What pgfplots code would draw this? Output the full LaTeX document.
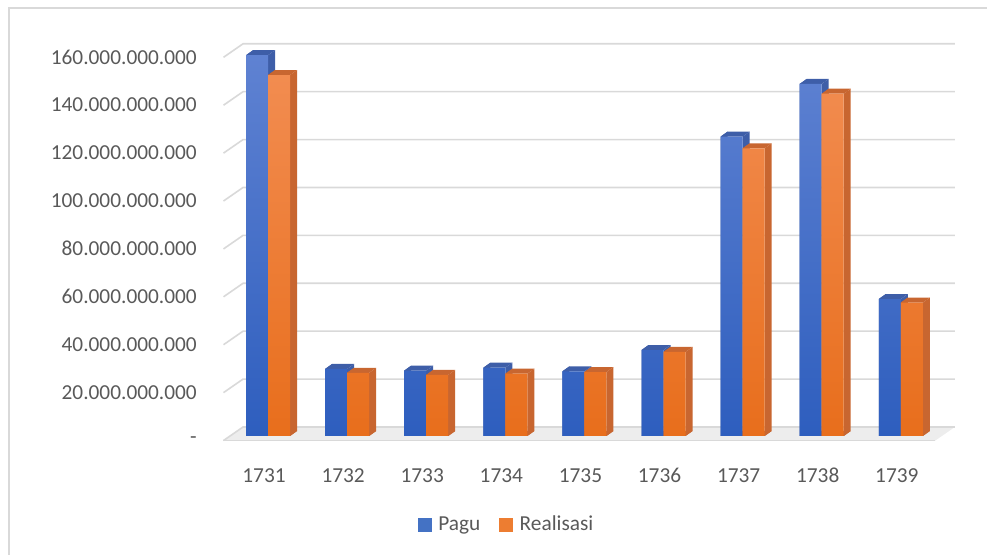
\documentclass[border=0pt]{standalone}
\usepackage{pgfplots}
\pgfplotsset{compat=1.18}
\usetikzlibrary{decorations.pathreplacing}
\usepackage{fontspec}
\setmainfont{Carlito}

\definecolor{txt}{RGB}{89,89,89}
\definecolor{gridc}{RGB}{217,217,217}
\definecolor{bluetop}{RGB}{95,130,210}
\definecolor{bluebot}{RGB}{46,94,190}
\definecolor{bluecap}{RGB}{62,94,168}
\definecolor{blueside}{RGB}{50,78,145}
\definecolor{bluekey}{RGB}{68,114,196}
\definecolor{orgtop}{RGB}{242,140,80}
\definecolor{orgbot}{RGB}{232,110,28}
\definecolor{orgcap}{RGB}{200,102,48}
\definecolor{orgside}{RGB}{160,80,32}
\definecolor{orgkey}{RGB}{237,125,49}

% one face of the bar's depth: the sweep of the current edge;
% pass 1 draws the vertical edges (side), pass 0 the horizontal ones (top)
\newdimen\bya \newdimen\byb
\newcommand\depthface[2]{%
  \pgfextracty{\bya}{\tikzinputsegmentfirst}%
  \pgfextracty{\byb}{\tikzinputsegmentlast}%
  \advance\bya by -\byb
  \ifdim\bya<0pt \bya=-\bya \fi
  \def\bflat{0}%
  \ifdim\bya<0.2pt \def\bflat{1}\fi
  \ifnum#1=\bflat\relax\else
    \fill[shade=false, fill=#2] (\tikzinputsegmentfirst) -- (\tikzinputsegmentlast)
      -- ([shift={(5.25pt,3.75pt)}]\tikzinputsegmentlast)
      -- ([shift={(5.25pt,3.75pt)}]\tikzinputsegmentfirst) -- cycle;
  \fi}
\tikzset{
  depth/.style 2 args={
    preaction={shade=false, decorate, decoration={show path construction,
      lineto code={\depthface{1}{#1}}, closepath code={\depthface{1}{#1}}}},
    preaction={shade=false, decorate, decoration={show path construction,
      lineto code={\depthface{0}{#2}}, closepath code={\depthface{0}{#2}}}}}
}

% values (Rupiah)
\pgfplotstableread{
x pagu realisasi
0 159000000000 150700000000
1 28000000000 26400000000
2 27300000000 25500000000
3 28500000000 26000000000
4 27000000000 26700000000
5 35900000000 35100000000
6 125000000000 120100000000
7 147000000000 142900000000
8 57200000000 55700000000
}\anggaran

\begin{document}
\begin{tikzpicture}
% 1 px of the reference = 0.75pt; axis origin (value 0, left end) at px (228.5, 436)
\path[use as bounding box] (-171.375pt,-89.25pt) rectangle ++(740.25pt,416.25pt);
\draw[gridc, line width=1pt] (-164.6pt,-89.25pt) -- (-164.6pt,321pt) -- (568.875pt,321pt);
\begin{axis}[
  at={(0pt,0pt)}, anchor=south west,
  scale only axis, width=533.9pt, height=287.4pt,
  clip=false,
  xmin=-0.5, xmax=8.5, ymin=0, ymax=160000000000,
  scaled y ticks=false,
  ybar=0pt, bar width=16.5pt,
  axis line style={draw=none}, tick style={draw=none},
  xtick=data,
  xticklabels={1731,1732,1733,1734,1735,1736,1737,1738,1739},
  ytick={0,20000000000,40000000000,60000000000,80000000000,100000000000,120000000000,140000000000,160000000000},
  yticklabels={-,20.000.000.000,40.000.000.000,60.000.000.000,80.000.000.000,100.000.000.000,120.000.000.000,140.000.000.000,160.000.000.000},
  ticklabel style={font=\fontsize{16}{19}\selectfont, text=txt, inner sep=0pt},
  yticklabel style={anchor=east, xshift=-23.6pt, yshift=-3.2pt},
  xticklabel style={anchor=center, yshift=-25.5pt, xshift=-3pt},
  legend columns=2,
  legend style={at={(0.391,-0.231)}, anchor=center, draw=none, fill=none,
    font=\fontsize{16}{19}\selectfont, text=txt,
    /tikz/every odd column/.append style={column sep=3pt},
    /tikz/every even column/.append style={column sep=12pt}},
]
% floor
\fill[gray!14] ([shift={(-3.75pt,-3.4pt)}]axis cs:-0.5,0) -- ([shift={(-3.75pt,-3.4pt)}]axis cs:8.5,0)
  -- ([shift={(10.9pt,6.75pt)}]axis cs:8.5,0) -- ([shift={(10.9pt,6.75pt)}]axis cs:-0.5,0) -- cycle;
\draw[gridc, line width=1.2pt] ([shift={(-3.75pt,-3.4pt)}]axis cs:-0.5,0) -- ([shift={(-3.75pt,-3.4pt)}]axis cs:8.5,0);
% back wall grid and left wall lines
\pgfplotsinvokeforeach{0,20000000000,40000000000,60000000000,80000000000,100000000000,120000000000,140000000000,160000000000}{
  \draw[gridc, line width=1.2pt] ([shift={(-3.75pt,-3.4pt)}]axis cs:-0.5,#1)
    -- ([shift={(10.9pt,6.75pt)}]axis cs:-0.5,#1) -- ([shift={(10.9pt,6.75pt)}]axis cs:8.5,#1);
}
\addplot[draw=none, top color=bluetop, bottom color=bluebot, depth={blueside}{bluecap},
  legend image code/.code={\pgfsetfillcolor{bluekey}\pgfpathrectangle{\pgfpoint{0pt}{-5.25pt}}{\pgfpoint{10.5pt}{10.5pt}}\pgfusepath{fill}}]
  table[x=x, y=pagu]{\anggaran};
\addlegendentry{Pagu}
\addplot[draw=none, top color=orgtop, bottom color=orgbot, depth={orgside}{orgcap},
  legend image code/.code={\pgfsetfillcolor{orgkey}\pgfpathrectangle{\pgfpoint{0pt}{-5.25pt}}{\pgfpoint{10.5pt}{10.5pt}}\pgfusepath{fill}}]
  table[x=x, y=realisasi]{\anggaran};
\addlegendentry{Realisasi}
\end{axis}
\end{tikzpicture}
\end{document}
